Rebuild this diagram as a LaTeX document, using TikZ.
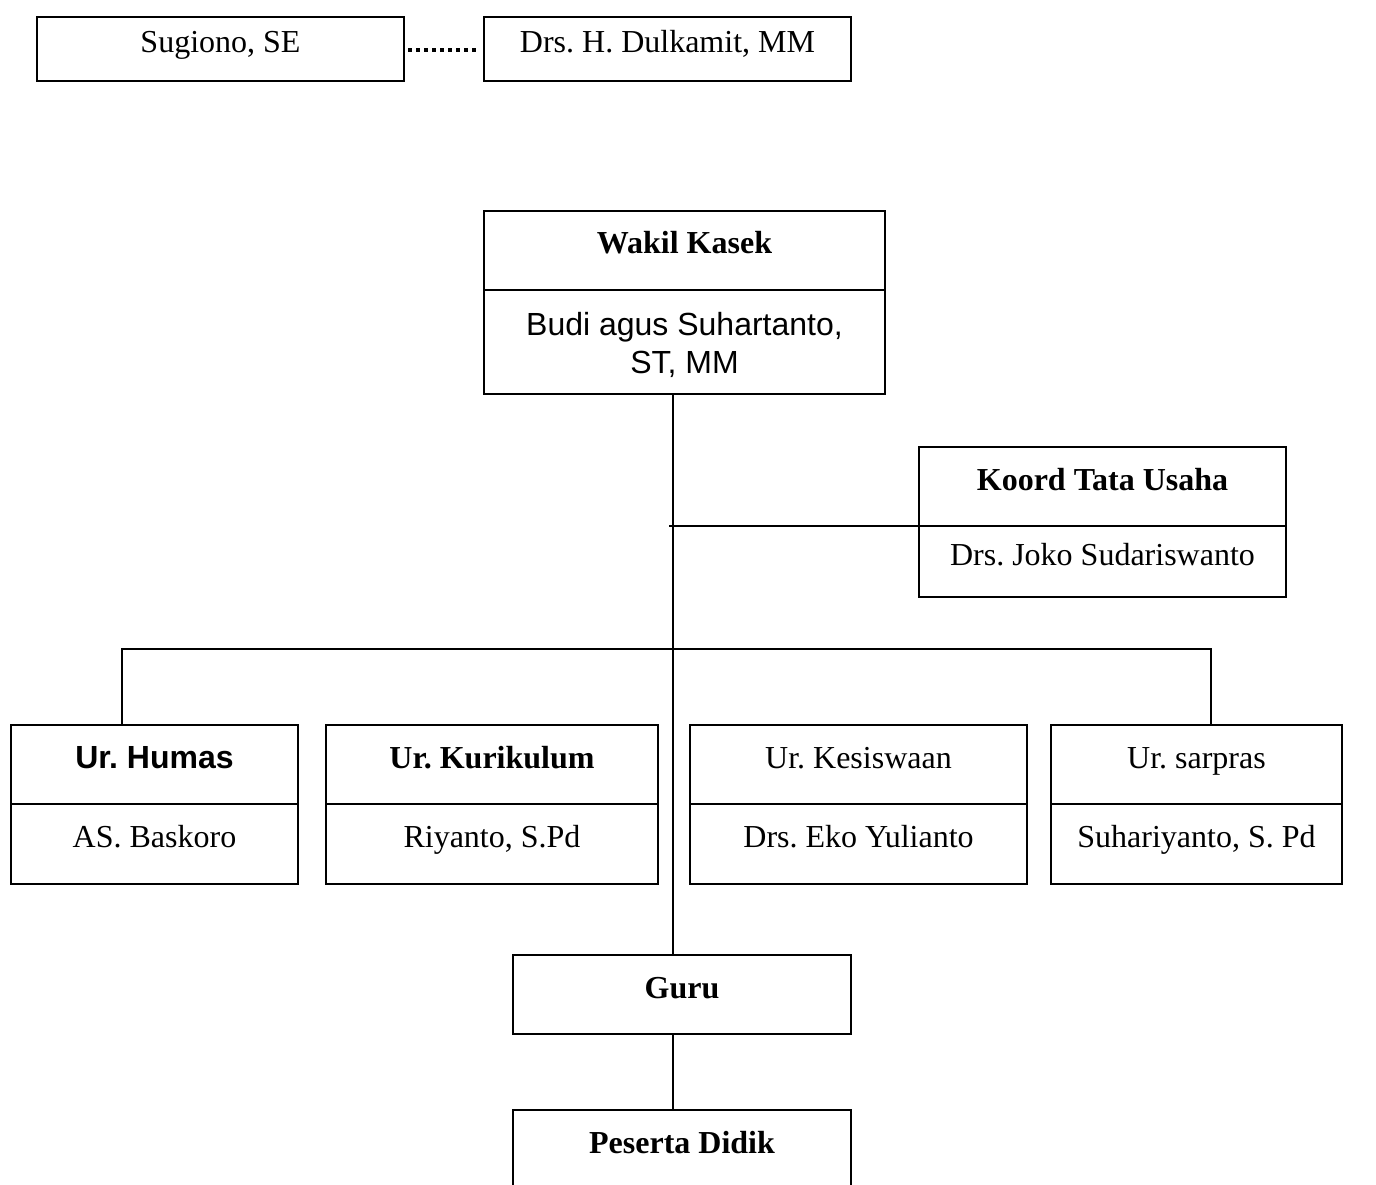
\documentclass[tikz,border=0pt]{standalone}
\usepackage{fontspec}
\setmainfont{Liberation Serif}
\newfontfamily\arialfont{Liberation Sans}
\frenchspacing
\tikzset{
  cell/.style={draw, line width=1.8pt, inner sep=0pt, outer sep=0pt, align=center, font=\fontsize{32}{40}\selectfont},
  one/.style={text height=18pt, text depth=11pt},
  link/.style={line width=1.8pt},
  dots/.style={line width=3.5pt, dash pattern=on 3.5pt off 4.5pt},
}
\begin{document}
\begin{tikzpicture}[x=1pt,y=-1pt]
\useasboundingbox (0,0) rectangle (1376,1185);
\clip (0,0) rectangle (1376,1185);
% top row
\node[cell, one, minimum width=367pt, minimum height=64pt] (sug) at (220.5,49) {Sugiono, SE};
\node[cell, one, minimum width=367pt, minimum height=64pt] (dul) at (667.5,49) {Drs. H. Dulkamit, MM};
\draw[dots] ([xshift=4pt,yshift=-1pt]sug.east) -- ([xshift=-4pt,yshift=-1pt]dul.west);
% Wakil Kasek
\node[cell, one, minimum width=401pt, minimum height=79pt] (wkT) at (684.5,250.5) {\textbf{Wakil Kasek}};
\node[cell, minimum width=401pt, minimum height=104pt, anchor=north] (wkB) at (wkT.south) {\arialfont\rule{0pt}{29pt}Budi agus Suhartanto,\\[-2pt]\arialfont ST, MM};
% Koord TU
\node[cell, one, minimum width=367pt, minimum height=79pt] (kT) at (1102.5,486.5) {\textbf{Koord Tata Usaha}};
\node[cell, one, minimum width=367pt, minimum height=71pt, anchor=north] (kB) at (kT.south) {Drs. Joko Sudariswanto};
% bottom row
\node[cell, one, minimum width=287pt, minimum height=79pt] (humT) at (154.5,764.5) {\arialfont\bfseries Ur. Humas};
\node[cell, one, minimum width=287pt, minimum height=80pt, anchor=north] (humB) at (humT.south) {AS. Baskoro};
\node[cell, one, minimum width=332pt, minimum height=79pt] (kurT) at (492,764.5) {\textbf{Ur. Kurikulum}};
\node[cell, one, minimum width=332pt, minimum height=80pt, anchor=north] (kurB) at (kurT.south) {Riyanto, S.Pd};
\node[cell, one, minimum width=337pt, minimum height=79pt] (kesT) at (858.5,764.5) {Ur. Kesiswaan};
\node[cell, one, minimum width=337pt, minimum height=80pt, anchor=north] (kesB) at (kesT.south) {Drs. Eko Yulianto};
\node[cell, one, minimum width=291pt, minimum height=79pt] (sarT) at (1196.5,764.5) {Ur. sarpras};
\node[cell, one, minimum width=291pt, minimum height=80pt, anchor=north] (sarB) at (sarT.south) {Suhariyanto, S. Pd};
% Guru and Peserta
\node[cell, one, minimum width=338pt, minimum height=79pt] (guru) at (682,994.5) {\textbf{Guru}};
\node[cell, one, minimum width=338pt, minimum height=79pt, anchor=north] (ps) at (682,1110) {\textbf{Peserta Didik}};
% connectors
\coordinate (spine) at (673,0);
\coordinate (tuJ) at (669,526);
\coordinate (busL) at (122,649);
\coordinate (busR) at (1211,649);
\draw[link] (wkB.south -| spine) -- (guru.north -| spine);
\draw[link] (guru.south -| spine) -- (ps.north -| spine);
\draw[link] (tuJ) -- (tuJ -| kT.west);
\draw[link] (busL |- humT.north) -- (busL) -- (busR) -- (busR |- sarT.north);
\end{tikzpicture}
\end{document}
